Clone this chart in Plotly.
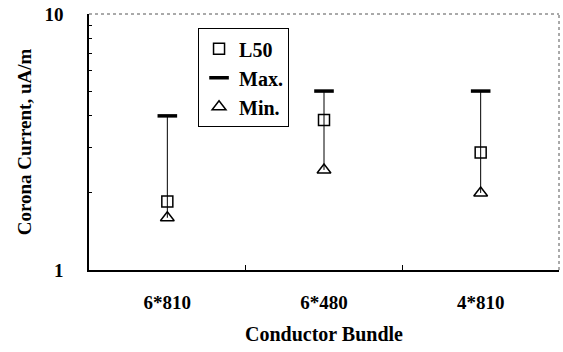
import plotly.graph_objects as go

categories = ["6*810", "6*480", "4*810"]
l50_values = [1.85, 3.85, 2.88]
max_values = [4.0, 5.0, 5.0]
min_values = [1.6, 2.46, 2.0]
y_tick_vals = [1, 10]
y_tick_text = ["1", "10"]
y_minor_vals = [2, 3, 4, 5, 6, 7, 8, 9]

FONT = "Liberation Serif, Times New Roman, serif"

# vertical range lines from min to max
lx, ly = [], []
for c, lo, hi in zip(categories, min_values, max_values):
    lx += [c, c, None]
    ly += [lo, hi, None]

fig = go.Figure()
fig.add_trace(go.Scatter(x=lx, y=ly, mode="lines", line=dict(color="black", width=1),
                         showlegend=False, hoverinfo="skip"))
fig.add_trace(go.Scatter(x=categories, y=l50_values, mode="markers", name="L50",
                         marker=dict(symbol="square-open", size=11, color="black",
                                     line=dict(width=1.5, color="black"))))
fig.add_trace(go.Scatter(x=categories, y=max_values, mode="markers", name="Max.",
                         marker=dict(symbol="line-ew", size=14, color="black",
                                     line=dict(width=3.5, color="black"))))
fig.add_trace(go.Scatter(x=categories, y=min_values, mode="markers", name="Min.",
                         marker=dict(symbol="triangle-up-open", size=12, color="black",
                                     line=dict(width=1.5, color="black"))))

fig.update_layout(
    width=563, height=352,
    margin=dict(l=89, r=4, t=12, b=82),
    paper_bgcolor="white", plot_bgcolor="white",
    font=dict(family=FONT, color="black", size=18, weight="bold"),
    legend=dict(x=0.232, y=0.944, xanchor="left", yanchor="top",
                bordercolor="black", borderwidth=1, bgcolor="white",
                font=dict(family=FONT, size=20, weight="bold", color="black"),
                itemwidth=30, tracegroupgap=0),
    xaxis=dict(type="category", range=[-0.5, 2.5], showline=True, linecolor="black", linewidth=1.5,
               ticks="inside", ticklen=5, tickcolor="black", tickson="boundaries",
               showgrid=False, zeroline=False, ticklabelstandoff=14,
               tickfont=dict(family=FONT, size=19, weight="bold"),
               title=dict(text="Conductor Bundle", standoff=15,
                          font=dict(family=FONT, size=20, weight="bold"))),
    yaxis=dict(type="log", range=[0, 1], showline=True, linecolor="black", linewidth=1.5,
               tickmode="array", tickvals=y_tick_vals, ticktext=y_tick_text,
               ticks="inside", ticklen=5, tickcolor="black",
               minor=dict(tickmode="array", tickvals=y_minor_vals, ticks="inside",
                          ticklen=3, tickcolor="black", showgrid=False),
               showgrid=False, zeroline=False, ticklabelstandoff=20,
               tickfont=dict(family=FONT, size=19, weight="bold"),
               title=dict(text="Corona Current, uA/m", standoff=8,
                          font=dict(family=FONT, size=19, weight="bold"))),
    shapes=[
        dict(type="line", xref="paper", yref="paper", x0=0, x1=1, y0=1, y1=1,
             line=dict(color="#555555", width=1, dash="dot")),
        dict(type="line", xref="paper", yref="paper", x0=1, x1=1, y0=0, y1=1,
             line=dict(color="#555555", width=1, dash="dot")),
    ],
)

fig.write_html("out.html")
